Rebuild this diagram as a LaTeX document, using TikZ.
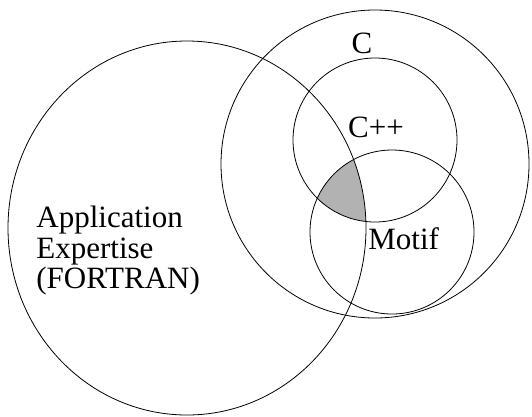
\documentclass[tikz,border=0pt]{standalone}
\usepackage{fontspec}
\setmainfont{Liberation Serif}

\begin{document}
\begin{tikzpicture}[x=1pt, y=-1pt, line width=0.8pt,
    label/.style={font=\fontsize{31}{31}\selectfont, inner sep=0pt}]
    \useasboundingbox (0,0) rectangle (532,416);

    % Shaded overlap
    \begin{scope}
        \clip (187,228) ellipse [x radius=179, y radius=187];
        \clip (375,140) circle [radius=82];
        \fill[gray!60] (392,232) circle [radius=82];
    \end{scope}

    % Sets
    \draw (187,228) ellipse [x radius=179, y radius=187];
    \draw (375,164) circle [radius=154];
    \draw (375,140) circle [radius=82];
    \draw (392,232) circle [radius=82];

    % Labels
    \node[label, anchor=base west] (app) at (36,227) {Application};
    \node[label, anchor=base west] (exp) at (36,258) {Expertise};
    \node[label, anchor=base west] (fortran) at (36,288) {(FORTRAN)};
    \node[label, anchor=base] (c) at (362,53) {C};
    \node[label, anchor=base] (cpp) at (376,137) {C++};
    \node[label, anchor=base west] (motif) at (368,249) {Motif};
\end{tikzpicture}
\end{document}
